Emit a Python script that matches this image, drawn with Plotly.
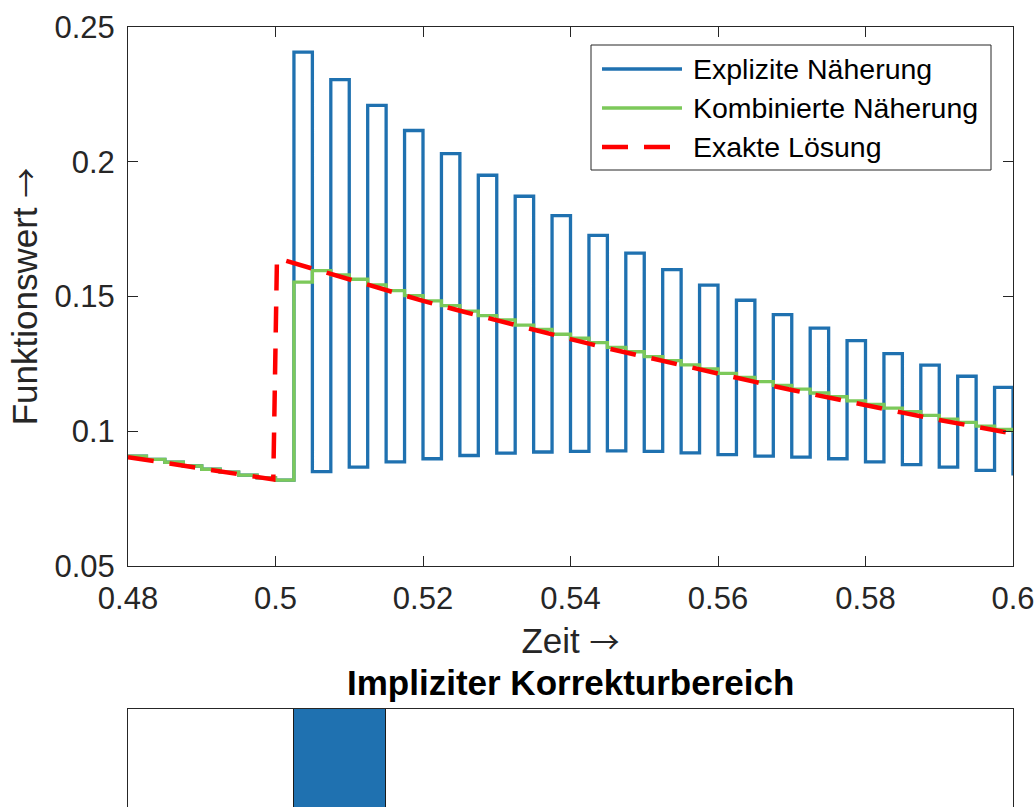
import plotly.graph_objects as go

# ---------------- data ----------------
zeit = [0.48, 0.4825, 0.485, 0.4875, 0.49, 0.4925, 0.495, 0.4975,
        0.5, 0.5025, 0.505, 0.5075, 0.51, 0.5125, 0.515, 0.5175,
        0.52, 0.5225, 0.525, 0.5275, 0.53, 0.5325, 0.535, 0.5375,
        0.54, 0.5425, 0.545, 0.5475, 0.55, 0.5525, 0.555, 0.5575,
        0.56, 0.5625, 0.565, 0.5675, 0.57, 0.5725, 0.575, 0.5775,
        0.58, 0.5825, 0.585, 0.5875, 0.59, 0.5925, 0.595, 0.5975, 0.6]

kombiniert = [0.0908, 0.0896, 0.0885, 0.0871, 0.0859, 0.0848, 0.0837, 0.0827,
              0.0819, 0.1553, 0.1596, 0.1580, 0.1564, 0.1543, 0.1522, 0.1503,
              0.1484, 0.1466, 0.1446, 0.1429, 0.1413, 0.1394, 0.1378, 0.1360,
              0.1345, 0.1329, 0.1311, 0.1295, 0.1277, 0.1262, 0.1246, 0.1231,
              0.1215, 0.1200, 0.1184, 0.1170, 0.1156, 0.1142, 0.1128, 0.1113,
              0.1100, 0.1086, 0.1073, 0.1059, 0.1045, 0.1033, 0.1019, 0.1007, 0.0995]

explizit_vor = [0.0908, 0.0896, 0.0885, 0.0871, 0.0859, 0.0848, 0.0837, 0.0827, 0.0819]
explizit_hoch = [0.2407, 0.2305, 0.2209, 0.2116, 0.2030, 0.1950, 0.1872, 0.1800, 0.1727, 0.1661,
                 0.1600, 0.1542, 0.1486, 0.1433, 0.1383, 0.1336, 0.1288, 0.1245, 0.1204, 0.1163]
explizit_tief = [0.0850, 0.0867, 0.0886, 0.0898, 0.0910, 0.0919, 0.0923, 0.0925, 0.0927, 0.0925,
                 0.0920, 0.0913, 0.0908, 0.0904, 0.0898, 0.0886, 0.0876, 0.0867, 0.0855, 0.0836]

exakt_t = [0.48, 0.485, 0.49, 0.495, 0.4997, 0.5002, 0.505, 0.51, 0.515, 0.52, 0.525,
           0.53, 0.535, 0.54, 0.545, 0.55, 0.555, 0.56, 0.565, 0.57, 0.575,
           0.58, 0.585, 0.59, 0.595, 0.6]
exakt_y = [0.0904, 0.0882, 0.0861, 0.0840, 0.0821, 0.1642, 0.1603, 0.1562, 0.1523,
           0.1484, 0.1447, 0.1411, 0.1376, 0.1342, 0.1308, 0.1276, 0.1244, 0.1213,
           0.1183, 0.1153, 0.1124, 0.1096, 0.1069, 0.1042, 0.1016, 0.0991]

korrektur_start = [0.5025]
korrektur_ende = [0.515]

x_ticks = [0.48, 0.5, 0.52, 0.54, 0.56, 0.58, 0.6]
x_ticklabels = ["0.48", "0.5", "0.52", "0.54", "0.56", "0.58", "0.6"]
y_ticks = [0.05, 0.1, 0.15, 0.2, 0.25]
y_ticklabels = ["0.05", "0.1", "0.15", "0.2", "0.25"]

legend_namen = ["Explizite Näherung", "Kombinierte Näherung", "Exakte Lösung"]

# explicit series: identical before correction, then alternating high/low
explizit = list(explizit_vor)
for h, l in zip(explizit_hoch, explizit_tief):
    explizit += [h, l]

# ---------------- styling ----------------
FONT = "Liberation Sans, Arial, Helvetica, sans-serif"
ARROW = "<span style='font-family:Noto Sans CJK SC;font-size:30px'>→</span>"
AX = "#262626"
BLUE = "#1f71b0"
GREEN = "#7cc95a"
RED = "#ff0000"
styles = [dict(color=BLUE, width=3.3), dict(color=GREEN, width=3.3),
          dict(color=RED, width=4.5, dash="26px,16px")]

W, H = 1036, 807
L, R = 128, 23
PW = W - L - R
main_dom = [(H - 566) / H, (H - 27) / H]
sub_dom = [0, (H - 709) / H]


def px(xp):
    return (xp - L) / PW


def py(yp):
    return (H - yp) / H


fig = go.Figure()
fig.add_trace(go.Scatter(x=zeit, y=explizit, mode="lines", line_shape="hv",
                         line=styles[0], name=legend_namen[0]))
fig.add_trace(go.Scatter(x=zeit, y=kombiniert, mode="lines", line_shape="hv",
                         line=styles[1], name=legend_namen[1]))
fig.add_trace(go.Scatter(x=exakt_t, y=exakt_y, mode="lines",
                         line=styles[2], name=legend_namen[2]))

# correction region (bottom panel)
fig.add_trace(go.Bar(x=[(s + e) / 2 for s, e in zip(korrektur_start, korrektur_ende)],
                     width=[e - s for s, e in zip(korrektur_start, korrektur_ende)],
                     y=[1 for _ in korrektur_start],
                     marker=dict(color=BLUE, line=dict(color="#1a1a1a", width=1)),
                     xaxis="x2", yaxis="y2", showlegend=False))

axis_common = dict(showline=True, linecolor=AX, linewidth=1, mirror="ticks",
                   ticks="inside", ticklen=10, tickcolor=AX, showgrid=False,
                   zeroline=False, automargin=False,
                   tickfont=dict(family=FONT, size=31, color=AX))

# legend drawn as a framed box (MATLAB style with long line samples)
shapes = [dict(type="rect", xref="paper", yref="paper", x0=px(591), x1=px(991),
               y0=py(170), y1=py(45), line=dict(color=AX, width=1), fillcolor="white",
               layer="above")]
annotations = []
row_y = [69, 108, 147]
for name, st, ry in zip(legend_namen, styles, row_y):
    shapes.append(dict(type="line", xref="paper", yref="paper", x0=px(602), x1=px(682),
                       y0=py(ry), y1=py(ry), line=st, layer="above"))
    annotations.append(dict(text=name, xref="paper", yref="paper", x=px(691), y=py(ry),
                            xanchor="left", yanchor="middle", showarrow=False,
                            font=dict(family=FONT, size=28.5, color="black")))

annotations.append(dict(text="<b>Impliziter Korrekturbereich</b>", xref="paper", yref="paper",
                        x=0.5, y=py(682), xanchor="center", yanchor="middle",
                        showarrow=False, font=dict(family=FONT, size=35, color="black")))

fig.update_layout(
    width=W, height=H,
    margin=dict(l=L, r=R, t=0, b=0, autoexpand=False),
    paper_bgcolor="white", plot_bgcolor="white",
    font=dict(family=FONT, color=AX),
    xaxis=dict(domain=[0, 1], range=[0.48, 0.6], tickvals=x_ticks, ticktext=x_ticklabels,
               anchor="y", ticklabelstandoff=5,
               title=dict(text="Zeit " + ARROW, font=dict(family=FONT, size=35, color=AX),
                          standoff=13),
               **axis_common),
    yaxis=dict(domain=main_dom, range=[0.05, 0.25], tickvals=y_ticks, ticktext=y_ticklabels,
               anchor="x", ticklabelstandoff=6,
               title=dict(text="Funktionswert " + ARROW,
                          font=dict(family=FONT, size=35, color=AX), standoff=6),
               **axis_common),
    xaxis2=dict(domain=[0, 1], range=[0.48, 0.6], anchor="y2", side="top",
                showline=True, linecolor=AX, linewidth=1, showticklabels=False,
                ticks="", showgrid=False, zeroline=False, automargin=False),
    yaxis2=dict(domain=sub_dom, range=[0.5, 1], anchor="x2", showline=True, linecolor=AX,
                linewidth=1, mirror=True, showticklabels=False, ticks="",
                showgrid=False, zeroline=False, automargin=False),
    bargap=0,
    showlegend=False,
    shapes=shapes,
    annotations=annotations,
)

fig.write_html("out.html")
